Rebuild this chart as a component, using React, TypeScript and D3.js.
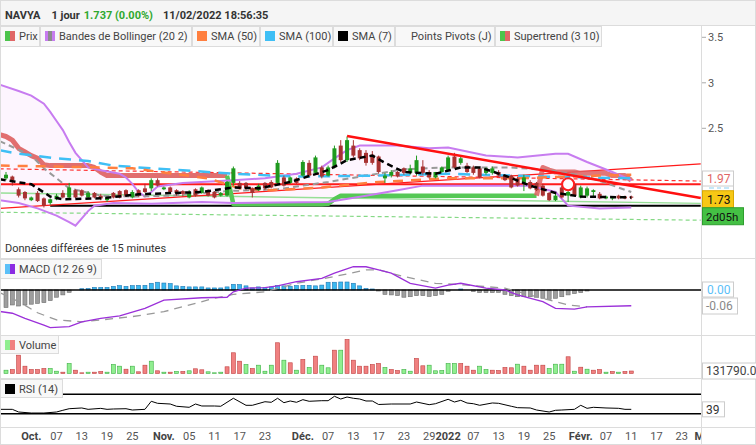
import React from "react";
import * as d3 from "d3";

// ---------- DATA ----------
const startDate = "2021-09-27";
const symbol = "NAVYA";
const period = "1 jour";
const lastPrice = 1.737;
const changePct = "0.00%";
const stamp = "11/02/2022 18:56:35";

const opens = [1.95,1.97,1.83,1.80,1.71,1.79,1.73,1.68,1.72,1.79,1.74,1.82,1.82,1.74,1.79,1.76,1.71,1.79,1.81,1.82,1.74,1.82,1.84,1.84,1.93,1.83,1.85,1.82,1.81,1.74,1.83,1.79,1.82,1.80,1.76,1.76,1.90,1.90,1.90,1.84,1.82,1.90,1.91,1.90,1.96,1.90,1.95,1.98,2.12,2.01,2.07,1.98,2.07,2.31,2.15,2.31,2.26,2.23,2.21,2.19,1.95,1.98,2.02,2.06,2.01,2.01,2.08,2.02,1.96,2.02,2.04,2.19,2.12,2.09,2.07,2.06,2.01,2.01,2.02,1.98,1.98,1.95,1.90,1.91,1.90,1.87,1.79,1.71,1.85,1.76,1.89,1.74,1.76,1.80,1.78,1.73,1.73,1.76,1.75,1.75];
const highs = [2.02,1.98,1.85,1.81,1.75,1.81,1.74,1.73,1.78,1.82,1.90,1.83,1.83,1.81,1.80,1.78,1.75,1.80,1.82,1.83,1.82,1.83,1.89,1.95,1.95,1.86,1.86,1.83,1.82,1.82,1.84,1.86,1.83,1.81,1.80,1.92,2.08,1.92,1.91,1.85,1.89,1.91,1.93,2.15,1.98,1.97,1.96,2.15,2.15,2.20,2.09,2.09,2.31,2.37,2.41,2.37,2.28,2.26,2.25,2.20,2.01,2.04,2.03,2.07,2.10,2.20,2.15,2.04,2.02,2.08,2.20,2.23,2.19,2.12,2.09,2.07,2.07,2.08,2.04,1.99,1.99,1.97,1.99,1.93,1.91,1.89,1.80,1.79,1.87,1.85,1.90,1.87,1.86,1.83,1.80,1.76,1.75,1.77,1.76,1.76];
const lows = [1.93,1.87,1.74,1.71,1.70,1.69,1.63,1.66,1.71,1.73,1.73,1.73,1.75,1.73,1.73,1.71,1.69,1.73,1.73,1.75,1.73,1.75,1.79,1.81,1.86,1.82,1.79,1.76,1.75,1.73,1.75,1.78,1.75,1.73,1.75,1.75,1.87,1.83,1.82,1.74,1.81,1.82,1.84,1.89,1.86,1.89,1.89,1.97,1.97,1.99,1.95,1.97,2.06,2.13,2.13,2.18,2.15,2.09,2.10,2.00,1.90,1.96,1.96,1.99,1.99,1.98,1.99,1.95,1.95,2.01,2.03,2.06,2.10,2.01,1.99,1.95,1.99,1.99,1.97,1.92,1.84,1.86,1.81,1.83,1.81,1.75,1.70,1.70,1.73,1.69,1.75,1.73,1.74,1.74,1.72,1.72,1.71,1.72,1.72,1.72];
const closes = [1.99,1.93,1.76,1.73,1.74,1.70,1.65,1.72,1.76,1.74,1.85,1.74,1.76,1.79,1.74,1.73,1.74,1.74,1.74,1.76,1.80,1.76,1.80,1.93,1.87,1.85,1.80,1.79,1.78,1.80,1.76,1.85,1.76,1.74,1.79,1.91,2.06,1.84,1.84,1.79,1.87,1.84,1.85,2.12,1.87,1.96,1.90,2.13,1.98,2.18,1.97,2.07,2.28,2.15,2.37,2.20,2.17,2.12,2.12,2.02,1.98,2.02,1.97,2.01,2.06,2.15,2.01,1.96,2.02,2.07,2.18,2.07,2.17,2.02,2.01,1.96,2.06,2.06,1.98,1.93,1.85,1.87,1.96,1.84,1.82,1.76,1.71,1.76,1.74,1.80,1.76,1.85,1.84,1.82,1.73,1.75,1.74,1.73,1.73,1.737];

const volumesK = [175,212,970,387,212,212,265,265,122,70,530,175,37,70,70,106,70,477,387,228,387,90,440,652,143,70,70,106,106,143,249,196,90,37,70,355,1097,652,477,265,440,122,440,1627,705,567,175,742,318,917,440,302,1235,1235,1802,705,387,387,477,530,318,212,159,212,122,795,408,440,143,159,530,530,530,387,175,387,212,175,159,318,302,493,387,175,440,440,265,493,493,885,122,334,228,175,212,70,106,70,106,131.79];
const volumeDir = "grrrrrrggrgrrgrrgggrgrrgrgrgrgrrgggrrrgrgggrgrgrgrggrgrrrrrrgrrggrrgggggrrrggrrrrgrrrrgggrgrgrrgrgr";

const macdHist = [-0.068,-0.058,-0.062,-0.058,-0.055,-0.052,-0.049,-0.041,-0.028,-0.019,-0.009,0,0.005,0.006,0.010,0.010,0.010,0.014,0.017,0.014,0.017,0.018,0.018,0.026,0.030,0.027,0.025,0.016,0.014,0.012,0.012,0.012,0.008,0.008,0.008,0.012,0.022,0.021,0.016,0.008,0.012,0.009,0.012,0.018,0.016,0.014,0.017,0.018,0.018,0.016,0.019,0.030,0.030,0.031,0.031,0.026,0.016,0.006,0.004,-0.004,-0.017,-0.019,-0.022,-0.028,-0.026,-0.022,-0.022,-0.025,-0.022,-0.017,-0.005,0,0.004,0,-0.006,-0.010,-0.010,-0.010,-0.009,-0.017,-0.022,-0.026,-0.026,-0.026,-0.028,-0.032,-0.036,-0.032,-0.026,-0.019,-0.014,-0.010,-0.004,0,0,0,0,0,0,0];
const macdLine: [number, number][] = [[-1,-0.083],[1,-0.090],[3,-0.110],[6,-0.136],[7,-0.146],[10,-0.142],[12,-0.123],[15,-0.110],[18,-0.100],[22,-0.071],[25,-0.039],[31,-0.030],[35,-0.028],[36,-0.007],[38,0.007],[41,0.009],[43,0.016],[46,0.032],[50,0.045],[52,0.065],[55,0.090],[57,0.090],[59,0.078],[61,0.065],[64,0.026],[68,0.007],[70,0.019],[72,0.026],[76,0.007],[79,0.0],[81,-0.019],[85,-0.045],[87,-0.071],[90,-0.074],[92,-0.065],[99,-0.061]];
const macdSignal: [number, number][] = [[-1,-0.010],[2,-0.045],[5,-0.088],[8,-0.116],[12,-0.123],[15,-0.116],[20,-0.103],[25,-0.084],[33,-0.032],[36,-0.017],[41,-0.007],[46,0.026],[52,0.052],[57,0.078],[59,0.078],[63,0.052],[68,0.026],[73,0.019],[79,0.007],[84,-0.026],[89,-0.058],[92,-0.065]];

const rsiLine: [number, number][] = [[-1,39],[1,39],[2,33.5],[4,31.4],[6,31.4],[8,33.5],[9,37],[10,40.3],[12,41.8],[13,39],[15,41],[16,39],[17,39.7],[19,40.3],[20,37.6],[22,39],[23,55.6],[24,51.4],[26,50],[27,45.3],[29,43.2],[30,50],[31,45.9],[33,45.9],[34,45.3],[36,61.8],[38,47.3],[39,47.3],[41,54.7],[42,53.5],[43,61.8],[44,52.7],[45,56.2],[46,53.5],[47,58.9],[48,55.6],[50,56.8],[51,56.8],[52,65.9],[53,60.3],[54,64.4],[55,61.8],[56,60.3],[57,56.2],[58,56.2],[59,49],[61,50],[64,50],[65,54.1],[67,48.6],[68,50.6],[70,59.7],[71,54.1],[72,57.6],[73,52],[74,50.6],[75,47.3],[77,52.1],[78,51.4],[80,45.3],[81,42.4],[83,41.8],[84,37.6],[86,33.5],[87,37],[88,37.6],[90,39],[91,47.3],[92,41.1],[93,43.2],[95,41.8],[97,41.1],[98,39],[99,39]];

const bbUpper: [number, number][] = [[-1,2.98],[2,2.91],[4,2.86],[6,2.77],[7,2.68],[8,2.58],[9,2.48],[10,2.35],[11,2.23],[13,2.07],[15,2.04],[18,2.00],[19,1.96],[20,1.89],[21,1.80],[22,1.75],[23,1.80],[24,1.86],[28,1.90],[36,1.93],[41,1.95],[46,2.0],[50,2.07],[52,2.17],[54,2.26],[56,2.31],[62,2.31],[67,2.28],[70,2.29],[76,2.20],[81,2.18],[87,2.22],[89,2.22],[92,2.13],[96,2.02],[99,1.93]];
const bbMid: [number, number][] = [[-1,2.36],[4,2.20],[6,2.06],[10,1.84],[15,1.76],[20,1.75],[26,1.76],[35,1.81],[43,1.83],[51,1.91],[57,1.98],[63,2.05],[70,2.07],[80,2.07],[86,2.04],[92,1.97],[99,1.80]];
const bbLower: [number, number][] = [[-1,1.71],[2,1.68],[5,1.62],[8,1.54],[10,1.47],[11,1.43],[13,1.59],[14,1.65],[17,1.68],[23,1.67],[31,1.69],[36,1.68],[51,1.69],[57,1.76],[62,1.82],[66,1.87],[75,1.87],[83,1.87],[87,1.80],[89,1.65],[94,1.62],[99,1.63]];

const sma7: [number, number][] = [[-1,1.94],[4,1.885],[7,1.75],[9,1.72],[15,1.73],[21,1.775],[31,1.80],[36,1.85],[40,1.84],[45,1.91],[51,2.04],[54,2.15],[58,2.20],[60,2.12],[63,2.02],[68,2.0],[72,2.07],[75,2.07],[79,1.98],[83,1.87],[87,1.79],[91,1.75],[99,1.74]];
const sma50: [number, number][] = [[-1,2.09],[8,2.08],[20,2.06],[32,1.95],[37,1.84],[42,1.82],[50,1.85],[59,1.91],[70,1.95],[81,1.95],[94,1.98],[99,1.99]];
const sma100: [number, number][] = [[-1,2.26],[2,2.22],[8,2.17],[13,2.14],[17,2.09],[23,2.06],[28,2.04],[36,2.0],[46,1.97],[59,1.98],[70,2.0],[85,1.97],[99,1.95]];

const superRed1: [number, number][] = [[-1,2.43],[0,2.41],[1,2.37],[2,2.28],[3,2.24],[4,2.20],[5,2.17],[6,2.10],[7,2.09],[13,2.09],[14,2.07],[15,2.02],[16,1.98],[35,1.98]];
const superGreen: [number, number][] = [[35,1.98],[36,1.665],[50,1.665],[51,1.67],[52,1.72],[53,1.76],[84,1.76]];
const superRed2: [number, number][] = [[84,1.76],[85,2.07],[86,2.04],[87,2.02],[90,2.02],[91,2.005],[95,2.005],[96,1.98],[98,1.98],[99,1.93]];

const pivotLevel = 1.885;
const pivotLabel = 1.97;
const sma100Label = 1.95;
const risingResistance: [number, number][] = [[-1,1.62],[110,2.11]];
const pivotDashed: [number, number][] = [[-1,2.055],[110,1.92]];
const fallingResistance: [number, number][] = [[54,2.415],[110,1.735]];
const supportLevel: [number, number][] = [[7,1.648],[110,1.648]];
const greenDashed: [number, number][] = [[-1,1.577],[110,1.49]];
const greenSupport: [number, number][] = [[-1,1.79],[110,1.675]];
const signalPoint: [number, number] = [89, 1.885];
const countdown = "2d05h";

const priceTicks = [2.5, 3, 3.5];
const axisTickDates = ["2021-10-01","2021-10-07","2021-10-13","2021-10-19","2021-10-25","2021-11-01","2021-11-05","2021-11-11","2021-11-17","2021-11-23","2021-12-01","2021-12-07","2021-12-13","2021-12-17","2021-12-23","2021-12-29","2022-01-03","2022-01-07","2022-01-13","2022-01-19","2022-01-25","2022-02-01","2022-02-07","2022-02-11","2022-02-17","2022-02-23","2022-03-01"];
const axisTickLabels = ["Oct.","07","13","19","25","Nov.","05","11","17","23","Déc.","07","13","17","23","29","2022","07","13","19","25","Févr.","07","11","17","23","Mars"];

const legendLabels = ["Prix","Bandes de Bollinger (20 2)","SMA (50)","SMA (100)","SMA (7)","Points Pivots (J)","Supertrend (3 10)"];

// ---------- COMPONENT ----------
export default function App() {
  const F = "Roboto, 'Open Sans', sans-serif";
  const W = 756, H = 445, PR = 701;
  const x = d3.scaleLinear().domain([-0.95, 110.04]).range([0, PR]);
  const yP = d3.scaleLinear().domain([2, 3.5]).range([173.8, 37.3]);
  const yM = d3.scaleLinear().domain([0, -0.06]).range([290, 305.5]);
  const yV = d3.scaleLinear().domain([0, 1800]).range([373.5, 339.5]);
  const yR = d3.scaleLinear().domain([30, 70]).range([413.7, 394.3]);

  const lineP = d3.line<[number, number]>().x(d => x(d[0])).y(d => yP(d[1]));
  const lineM = d3.line<[number, number]>().x(d => x(d[0])).y(d => yM(d[1]));
  const lineR = d3.line<[number, number]>().x(d => x(d[0])).y(d => yR(d[1]));
  const bandPath = lineP([...bbUpper, ...[...bbLower].reverse()]) + "Z";

  const parse = d3.timeParse("%Y-%m-%d");
  const t0 = parse(startDate)!;
  const tIdx = (s: string) => d3.timeDay.range(t0, parse(s)!).filter(d => d.getDay() % 6 !== 0).length;

  const legendEdges = [0, 40, 192, 260, 333, 395, 495, 602];
  const lastIdx = closes.length - 1;
  const yLast = yP(closes[lastIdx]);

  const icon = (i: number, x0: number) => {
    const y0 = 31;
    switch (i) {
      case 0: return <g><rect x={x0} y={y0} width={5} height={10} fill="#4cc44c" /><rect x={x0 + 5} y={y0} width={5} height={10} fill="#e06666" /></g>;
      case 1: return <g><rect x={x0} y={y0} width={3} height={10} fill="#c77cf0" /><rect x={x0 + 3} y={y0} width={4} height={10} fill="#8c8c8c" /><rect x={x0 + 7} y={y0} width={3} height={10} fill="#c77cf0" /></g>;
      case 2: return <rect x={x0} y={y0} width={10} height={10} fill="#ff7f3f" />;
      case 3: return <rect x={x0} y={y0} width={10} height={10} fill="#3fbff5" />;
      case 4: return <rect x={x0} y={y0} width={10} height={10} fill="#000" />;
      case 6: return <g><rect x={x0} y={y0} width={5} height={10} fill="#4cc44c" /><rect x={x0 + 5} y={y0} width={5} height={10} fill="#e06666" /></g>;
      default: return null;
    }
  };

  return (
    <svg width={W} height={H} style={{ position: "absolute", left: 0, top: 0, fontFamily: F, background: "#fff" }}>
      <defs>
        <clipPath id="cMain"><rect x={0} y={26} width={PR} height={232} /></clipPath>
        <clipPath id="cAxis"><rect x={0} y={427} width={PR} height={18} /></clipPath>
        <clipPath id="cLow"><rect x={0} y={258} width={PR} height={169} /></clipPath>
      </defs>

      {/* header */}
      <rect x={0} y={0} width={W} height={26} fill="#f5f5f5" />
      <line x1={0} x2={W} y1={0.5} y2={0.5} stroke="#dcdcdc" />
      <line x1={0} x2={W} y1={25.5} y2={25.5} stroke="#dcdcdc" />
      <text x={5} y={19} fontSize={11} fontWeight="bold" fill="#333">
        {symbol}
        <tspan dx={11}>{period}</tspan>
        <tspan dx={4} fill="#2fa82f">{`${lastPrice.toFixed(3)} (${changePct})`}</tspan>
        <tspan dx={10}>{stamp}</tspan>
      </text>

      {/* main panel */}
      <g clipPath="url(#cMain)">
        <path d={bandPath} fill="#fdf5fe" />
        <path d={lineP(greenDashed)!} fill="none" stroke="#86d986" strokeWidth={1.2} strokeDasharray="4,3" />
        <path d={lineP(greenSupport)!} fill="none" stroke="#97df97" strokeWidth={1.5} />
        <path d={lineP(supportLevel)!} fill="none" stroke="#000" strokeWidth={2} />
        <path d={lineP(risingResistance)!} fill="none" stroke="#ff1a1a" strokeWidth={1.2} />
        <path d={lineP(pivotDashed)!} fill="none" stroke="#ff3030" strokeWidth={1.2} strokeDasharray="4,3" />
        <path d={lineP([[-1, pivotLevel], [110, pivotLevel]])!} fill="none" stroke="#ff1a1a" strokeWidth={2} />
        <path d={lineP(superRed1)!} fill="none" stroke="#de5f5f" strokeOpacity={0.9} strokeWidth={5} strokeLinejoin="round" />
        <path d={lineP(superGreen)!} fill="none" stroke="#55c855" strokeWidth={4.5} strokeLinejoin="round" />
        <path d={lineP(superRed2)!} fill="none" stroke="#de5f5f" strokeOpacity={0.85} strokeWidth={5} strokeLinejoin="round" />
        <path d={lineP(bbUpper)!} fill="none" stroke="#c77cf0" strokeWidth={2} />
        <path d={lineP(bbLower)!} fill="none" stroke="#c77cf0" strokeWidth={2} />
        <path d={lineP(bbMid)!} fill="none" stroke="#999" strokeWidth={2} strokeDasharray="6,4" />
        <path d={lineP(sma100)!} fill="none" stroke="#3fbff5" strokeWidth={2.5} strokeDasharray="12,8" />
        <path d={lineP(sma50)!} fill="none" stroke="#ff7f3f" strokeWidth={2.5} strokeDasharray="10,8" />
        {opens.map((o, i) => {
          const c = closes[i];
          const up = c >= o;
          const col = up ? "#1f9a1f" : "#a83232";
          const yt = yP(Math.max(o, c));
          const yb = yP(Math.min(o, c));
          return (
            <g key={i}>
              <line x1={x(i)} x2={x(i)} y1={yP(highs[i])} y2={yP(lows[i])} stroke={col} strokeWidth={1} />
              <rect x={x(i) - 2} y={yt} width={4} height={Math.max(1, yb - yt)} fill={col} />
            </g>
          );
        })}
        <path d={lineP(sma7)!} fill="none" stroke="#000" strokeWidth={2.5} strokeDasharray="6,4" />
        <path d={lineP(fallingResistance)!} fill="none" stroke="#ff1010" strokeWidth={2.5} />
        <circle cx={x(signalPoint[0])} cy={yP(signalPoint[1])} r={6} fill="#fff" stroke="#ff2020" strokeWidth={2} />
      </g>
      <text x={5} y={252} fontSize={11} fill="#333">Données différées de 15 minutes</text>

      {/* legend row */}
      {legendLabels.map((lab, i) => {
        const x0 = legendEdges[i], x1 = legendEdges[i + 1];
        return (
          <g key={lab}>
            <rect x={x0 + 0.5} y={26.5} width={x1 - x0 - 1} height={20} fill="#f8f8f8" stroke="#dcdcdc" />
            {icon(i, x0 + 5)}
            <text x={x0 + (i === 5 ? 16 : 19)} y={40} fontSize={11} fill="#444">{lab}</text>
          </g>
        );
      })}

      {/* MACD panel */}
      <g clipPath="url(#cLow)">
        {macdHist.map((v, i) => v === 0 ? null : (
          <rect key={i} x={x(i) - 2} y={Math.min(yM(v), yM(0))} width={4} height={Math.abs(yM(v) - yM(0))}
            fill={v > 0 ? "#3bb9f0" : "#9e9e9e"} stroke={v > 0 ? "#1f77b4" : "#6e6e6e"} strokeWidth={0.6} />
        ))}
        <line x1={0} x2={PR} y1={yM(0)} y2={yM(0)} stroke="#000" strokeWidth={1.5} />
        <path d={lineM(macdSignal)!} fill="none" stroke="#999" strokeWidth={1.3} strokeDasharray="8,6" />
        <path d={lineM(macdLine)!} fill="none" stroke="#9b30d9" strokeWidth={1.3} />
      </g>
      <rect x={0.5} y={259.5} width={101} height={19} fill="#f8f8f8" stroke="#dcdcdc" />
      <rect x={5} y={264} width={5} height={10} fill="#5bc0f8" />
      <rect x={10} y={264} width={5} height={10} fill="#8a2be2" />
      <text x={19} y={273} fontSize={11} fill="#444">MACD (12 26 9)</text>

      {/* Volume panel */}
      {volumesK.map((v, i) => {
        const up = volumeDir[i] === "g";
        return <rect key={i} x={x(i) - 2} y={yV(v)} width={4} height={yV(0) - yV(v)}
          fill={up ? "#90ee90" : "#f08080"} stroke={up ? "#3cb043" : "#c04040"} strokeWidth={0.6} />;
      })}
      <rect x={0.5} y={335.5} width={58} height={18} fill="#f8f8f8" stroke="#dcdcdc" />
      <rect x={5} y={340} width={5} height={10} fill="#90ee90" />
      <rect x={10} y={340} width={5} height={10} fill="#f08080" />
      <text x={19} y={349} fontSize={11} fill="#444">Volume</text>

      {/* RSI panel */}
      <line x1={0} x2={PR} y1={yR(70)} y2={yR(70)} stroke="#000" strokeWidth={1.5} />
      <line x1={0} x2={PR} y1={yR(30)} y2={yR(30)} stroke="#000" strokeWidth={1.5} />
      <path d={lineR(rsiLine)!} fill="none" stroke="#000" strokeWidth={1} clipPath="url(#cLow)" />
      <rect x={0.5} y={379.5} width={62} height={18} fill="#f8f8f8" stroke="#dcdcdc" />
      <rect x={5} y={384} width={10} height={10} fill="#000" />
      <text x={19} y={393} fontSize={11} fill="#444">RSI (14)</text>

      {/* frame lines */}
      {[258, 335, 378, 427].map(y => <line key={y} x1={0} x2={W} y1={y + 0.5} y2={y + 0.5} stroke="#dcdcdc" />)}
      <line x1={PR + 0.5} x2={PR + 0.5} y1={26} y2={H} stroke="#dcdcdc" />
      <line x1={0.5} x2={0.5} y1={0} y2={H} stroke="#dcdcdc" />
      <line x1={W - 0.5} x2={W - 0.5} y1={0} y2={H} stroke="#dcdcdc" />
      <line x1={0} x2={W} y1={H - 0.5} y2={H - 0.5} stroke="#dcdcdc" />

      {/* price axis */}
      {priceTicks.map(t => (
        <g key={t}>
          <line x1={PR + 1} x2={PR + 5} y1={yP(t)} y2={yP(t)} stroke="#aaa" />
          <text x={PR + 7} y={yP(t) + 4} fontSize={11} fill="#555">{String(t)}</text>
        </g>
      ))}
      {/* partly hidden SMA(100) value box */}
      <rect x={PR + 1.5} y={yP(sma100Label) - 2} width={31} height={15} fill="#fff" stroke="#ccc" />
      <line x1={PR + 8} x2={PR + 13} y1={188} y2={188} stroke="#9fd8f5" strokeWidth={1.2} />
      <line x1={PR + 16} x2={PR + 20} y1={188} y2={188} stroke="#9fd8f5" strokeWidth={1.2} />
      <line x1={PR + 23} x2={PR + 28} y1={188} y2={188} stroke="#9fd8f5" strokeWidth={1.2} />
      <rect x={PR + 1.5} y={171} width={31} height={15} fill="#fff" stroke="#ccc" />
      <text x={PR + 6} y={182.5} fontSize={12} fill="#e06666">{pivotLabel.toFixed(2)}</text>
      <rect x={PR + 1.5} y={yLast - 7} width={31} height={17} fill="#f7c815" stroke="#d9a800" />
      <text x={PR + 6} y={yLast + 6} fontSize={12} fill="#111">{(Math.floor(closes[lastIdx] * 100) / 100).toFixed(2)}</text>
      <rect x={PR + 1.5} y={yLast + 10} width={41} height={17} fill="#44c044" stroke="#2e9e2e" />
      <text x={PR + 5} y={yLast + 23} fontSize={11.5} fill="#111">{countdown}</text>

      {/* MACD labels */}
      <rect x={PR + 1.5} y={yM(0) - 8} width={31} height={15} fill="#fff" stroke="#ccc" />
      <text x={PR + 6} y={yM(0) + 4} fontSize={12} fill="#5bc0f8">{(0).toFixed(2)}</text>
      <rect x={PR + 1.5} y={yM(-0.06) - 7.5} width={35} height={16} fill="#fff" stroke="#ccc" />
      <text x={PR + 5} y={yM(-0.06) + 4.5} fontSize={12} fill="#888">{(-0.06).toFixed(2)}</text>

      {/* Volume label */}
      <rect x={PR + 1.5} y={yV(volumesK[lastIdx]) - 8} width={60} height={16} fill="#fff" stroke="#ccc" />
      <text x={PR + 5} y={yV(volumesK[lastIdx]) + 4} fontSize={12} fill="#444">{(volumesK[lastIdx] * 1000).toFixed(2)}</text>

      {/* RSI label */}
      <rect x={PR + 1.5} y={yR(39) - 7.5} width={22} height={15} fill="#fff" stroke="#ccc" />
      <text x={PR + 5} y={yR(39) + 4.5} fontSize={12} fill="#333">39</text>

      {/* time axis */}
      <g clipPath="url(#cAxis)">
        {axisTickDates.map((d, k) => {
          const lab = axisTickLabels[k];
          const bold = lab.length !== 2;
          return (
            <text key={d} x={x(tIdx(d))} y={440} fontSize={11} textAnchor="middle"
              fontWeight={bold ? "bold" : "normal"} fill={bold ? "#444" : "#555"}>{lab}</text>
          );
        })}
      </g>
    </svg>
  );
}
